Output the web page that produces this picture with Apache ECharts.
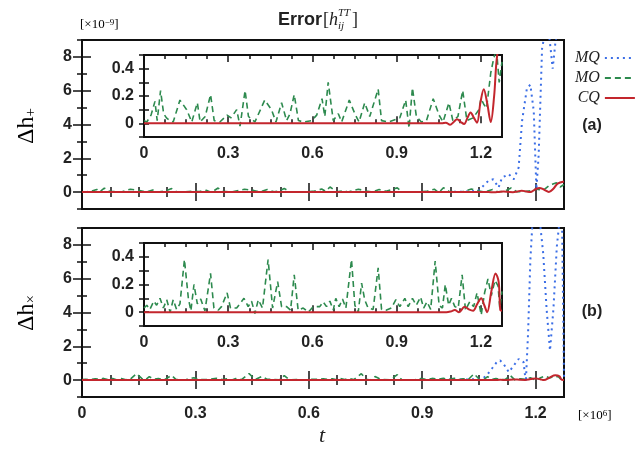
<!DOCTYPE html>
<html><head><meta charset="utf-8">
<script src="https://cdn.jsdelivr.net/npm/echarts@6/dist/echarts.min.js"></script>
<style>html,body{margin:0;padding:0;background:#fff}#c{width:640px;height:450px}</style>
</head><body><div id="c"></div>
<script>
// ---------------- data (values in units of 1e-9; t in units of 1e6) ----------------
const xTickLabels = ['0', '0.3', '0.6', '0.9', '1.2'];
const yMainLabels = [0, 2, 4, 6, 8];
const yMainMinor = [-1, 1, 3, 5, 7, 9];
const yInsetLabels = ['0', '0.2', '0.4'];
const seriesNames = ['MQ', 'MO', 'CQ'];

// panel (a): Delta h_+
const moA_t = [0,0.01,0.025,0.039,0.047,0.059,0.07,0.08,0.092,0.104,0.128,0.152,0.17,0.19,0.2,0.218,0.237,0.25,0.27,0.296,0.31,0.33,0.342,0.36,0.372,0.395,0.43,0.454,0.47,0.49,0.508,0.52,0.535,0.55,0.568,0.597,0.615,0.634,0.644,0.656,0.674,0.692,0.704,0.731,0.751,0.766,0.786,0.804,0.834,0.846,0.87,0.911,0.932,0.944,0.956,0.97,0.988,1.006,1.03,1.051,1.065,1.086,1.1,1.118,1.135,1.15,1.172,1.193,1.2,1.21,1.22,1.235,1.244,1.255,1.265,1.275];
const moA_v = [0.02,0.01,0.06,0.16,0.02,0.24,0.07,0.04,0.02,0.01,0.17,0.10,0.01,0.15,0.01,0.05,0.21,0.02,0.01,0.06,0.04,0.10,-0.02,0.24,0.05,0.01,0.17,0.10,0.01,0.15,0.02,0.07,0.21,0.02,0.01,0.02,0.06,0.18,0.05,0.30,0.02,0.07,0.01,0.17,0.07,0.01,0.15,0.05,0.25,0.02,0.01,0.04,0.17,-0.035,0.26,0.05,0.01,0.02,0.18,0.06,0.01,0.15,0.02,0.05,0.24,0.02,0.04,0.10,0.18,0.14,0.11,0.37,0.46,0.55,0.30,0.45];
const cqA_t = [0,1.06,1.075,1.09,1.103,1.115,1.128,1.14,1.152,1.163,1.175,1.186,1.198,1.21,1.222,1.235,1.247,1.258,1.275];
const cqA_v = [0,0,0.005,-0.01,0.01,0.03,0.01,-0.005,0.04,0.08,0.04,0.005,0.15,0.25,0.15,0.01,0.2,0.5,0.63];
const mqA_t = [0,0.95,1.0,1.03,1.05,1.066,1.075,1.088,1.102,1.111,1.129,1.142,1.155,1.164,1.177,1.186,1.195,1.202,1.208,1.217,1.226,1.235,1.24,1.245,1.252,1.26,1.275];
const mqA_v = [0,0,0.02,0.05,0.1,0.47,0.67,0.76,0.27,0.86,1.06,0.76,1.45,4.2,6.16,6.35,4.8,0.18,2.2,8.5,9.6,9.4,8.4,7.3,8.8,9.8,10];

// panel (b): Delta h_x
const moB_t = [0,0.01,0.021,0.035,0.045,0.057,0.069,0.081,0.093,0.104,0.116,0.128,0.144,0.158,0.167,0.178,0.19,0.202,0.217,0.237,0.249,0.265,0.276,0.296,0.308,0.33,0.356,0.371,0.383,0.395,0.407,0.422,0.442,0.458,0.476,0.49,0.508,0.522,0.535,0.549,0.567,0.585,0.603,0.626,0.638,0.65,0.662,0.674,0.683,0.695,0.707,0.719,0.739,0.751,0.763,0.775,0.786,0.798,0.816,0.834,0.846,0.864,0.881,0.897,0.911,0.929,0.941,0.956,0.97,0.985,0.996,1.008,1.021,1.037,1.051,1.063,1.073,1.085,1.095,1.107,1.119,1.133,1.145,1.16,1.174,1.186,1.201,1.213,1.225,1.237,1.25,1.261,1.267,1.275];
const moB_v = [0.03,0.05,0.02,0.08,0.05,0.10,0.03,0.09,0,0.09,0.02,0.06,0.38,0.10,0.01,0.20,0.06,0.095,0.01,0.28,0.03,0.015,0.04,0.14,0.03,0.03,0.10,0.04,0.08,-0.01,0.09,0.03,0.38,0.03,0.22,0.04,0.04,0.015,0.27,0.015,0.03,0,0.04,0.04,0.075,0.04,0.08,0.015,0.10,0.04,0.095,0.03,0.38,0.05,0,0.21,0.09,0.03,0.02,0.32,0.02,0.015,0.03,0.09,0.04,0.10,0.04,0.10,0.05,0.11,0.03,0.075,0.02,0.37,0.05,0.03,0.20,0.05,0.10,0.04,0.03,0.27,0.015,0.075,0.04,0.14,-0.02,0.14,0.24,0.12,0.23,0.19,0.03,0.15];
const cqB_t = [0,1.077,1.092,1.107,1.122,1.142,1.157,1.172,1.187,1.201,1.212,1.222,1.237,1.252,1.263,1.269,1.275];
const cqB_v = [0,0,0.005,0.015,0,0.04,0.02,0.01,0.06,0.1,0.05,0,0.15,0.28,0.22,0.015,0.01];
const mqB_t = [0,0.95,1.0,1.04,1.06,1.07,1.084,1.097,1.106,1.115,1.129,1.142,1.155,1.168,1.174,1.18,1.186,1.192,1.205,1.212,1.22,1.229,1.238,1.247,1.256,1.264,1.27,1.275];
const mqB_v = [0,0,0.03,0.05,0.1,0.27,0.67,1.06,1.16,0.96,0.47,0.86,1.25,1.06,-0.12,2.8,7.1,9.5,10,9.2,7.5,4.2,1.75,4.2,7.9,9.6,9.2,0.2];

// ---------------- layout / style ----------------
const XMAX = 1.275;
const grids = [
  {left:82, top:40, width:482, height:169, main:true},
  {left:144, top:55, width:358, height:82, main:false},
  {left:82, top:228, width:482, height:169, main:true},
  {left:144, top:243, width:358, height:83, main:false}
];
const COLORS = {MQ:'#3b6ee6', MO:'#2d8a4e', CQ:'#c3262d'};
const DASH = {MQ:[2,4], MO:[6,4], CQ:'solid'};
const WIDTH = {MQ:2, MO:1.6, CQ:2};
const LBL = {fontFamily:'"Liberation Sans", Arial, sans-serif', fontWeight:'bold', fontSize:16, color:'#222'};
const TICKSTYLE = {color:'#111', width:1.5};

const xAxes = [], yAxes = [], xMain = [], yMain = [];
function near(a, b){ return Math.abs(a - b) < 1e-6; }
function pick(list){ return v => { for (const s of list) if (near(v, parseFloat(s))) return String(s); return ''; }; }
const fmtX = pick(xTickLabels), fmtYMain = pick(yMainLabels), fmtYInset = pick(yInsetLabels);

function addX(g, pos, interval, len, labels, z){
  xAxes.push({type:'value', gridIndex:g, position:pos, min:0, max:XMAX, interval:interval, z:z,
    axisLine:{show:false}, splitLine:{show:false},
    axisTick:{show:true, inside:true, length:len, lineStyle:TICKSTYLE},
    axisLabel: labels ? Object.assign({show:true, margin:9, formatter:fmtX, showMaxLabel:false}, LBL) : {show:false}
  });
  return xAxes.length - 1;
}
function addYMain(g, pos, major, labels, z){
  yAxes.push({type:'value', gridIndex:g, position:pos, min:-1, max:9, interval:1, z:z,
    axisLine:{show:false}, splitLine:{show:false},
    axisTick:{show:true, inside:true, length: major ? 9 : 5, lineStyle:TICKSTYLE,
      customValues: major ? yMainLabels : yMainMinor},
    axisLabel: labels ? Object.assign({show:true, margin:10, formatter:fmtYMain, customValues:yMainLabels}, LBL) : {show:false}
  });
  return yAxes.length - 1;
}
function addYInset(g, pos, labels, z){
  yAxes.push({type:'value', gridIndex:g, position:pos, min:-0.1, max:0.5, interval:0.1, z:z,
    axisLine:{show:false}, splitLine:{show:false},
    axisTick:{show:true, inside:true, length:5, lineStyle:TICKSTYLE},
    axisLabel: labels ? Object.assign({show:true, margin:10, formatter:fmtYInset}, LBL) : {show:false}
  });
  return yAxes.length - 1;
}
grids.forEach((g, i) => {
  const z = g.main ? 0 : 6;
  if (g.main) {
    xMain[i] = addX(i, 'bottom', 0.3, 9, i !== 0, z);
    addX(i, 'bottom', 0.075, 5, false, z);
    addX(i, 'top', 0.3, 9, false, z);
    addX(i, 'top', 0.075, 5, false, z);
    yMain[i] = addYMain(i, 'left', true, true, z);
    addYMain(i, 'left', false, false, z);
    addYMain(i, 'right', true, false, z);
    addYMain(i, 'right', false, false, z);
  } else {
    xMain[i] = addX(i, 'bottom', 0.3, 7, true, z);
    addX(i, 'bottom', 0.075, 4, false, z);
    addX(i, 'top', 0.3, 7, false, z);
    addX(i, 'top', 0.075, 4, false, z);
    yMain[i] = addYInset(i, 'left', true, z);
    addYInset(i, 'right', false, z);
  }
});

function pts(t, v){ return t.map((x, k) => [x, v[k]]); }
function ser(name, g, t, v){
  return {name:name, type:'line', xAxisIndex:xMain[g], yAxisIndex:yMain[g], data:pts(t, v),
    symbol:'none', showSymbol:false, smooth: name === 'CQ' ? 0.35 : false, clip:true,
    z: grids[g].main ? (name === 'CQ' ? 4 : 3) : (name === 'CQ' ? 9 : 8),
    lineStyle:{color:COLORS[name], type:DASH[name], width:WIDTH[name]},
    itemStyle:{color:COLORS[name]}, animation:false};
}
const series = [
  ser('MQ', 0, mqA_t, mqA_v), ser('MO', 0, moA_t, moA_v), ser('CQ', 0, cqA_t, cqA_v),
  ser('MO', 1, moA_t, moA_v), ser('CQ', 1, cqA_t, cqA_v),
  ser('MQ', 2, mqB_t, mqB_v), ser('MO', 2, moB_t, moB_v), ser('CQ', 2, cqB_t, cqB_v),
  ser('MO', 3, moB_t, moB_v), ser('CQ', 3, cqB_t, cqB_v)
];

const SERIF = '"Liberation Serif", "DejaVu Serif", serif';
const SANS = '"Liberation Sans", Arial, sans-serif';
const graphic = [
  // title  Error[h_ij^TT]
  {type:'text', x:278, y:20, style:{text:'Error', font:'bold 18px ' + SANS, fill:'#222', verticalAlign:'middle'}},
  {type:'text', x:323, y:20, style:{text:'[', font:'18px ' + SERIF, fill:'#222', verticalAlign:'middle'}},
  {type:'text', x:329, y:20, style:{text:'h', font:'italic 18px ' + SERIF, fill:'#222', verticalAlign:'middle'}},
  {type:'text', x:338, y:13, style:{text:'TT', font:'italic 11px ' + SERIF, fill:'#222', verticalAlign:'middle'}},
  {type:'text', x:338, y:26, style:{text:'ij', font:'italic 11px ' + SERIF, fill:'#222', verticalAlign:'middle'}},
  {type:'text', x:352, y:20, style:{text:']', font:'18px ' + SERIF, fill:'#222', verticalAlign:'middle'}},
  // scale notes
  {type:'text', x:80, y:18, style:{text:'{b|[×10}{s|−9}{b|]}', verticalAlign:'top',
    rich:{b:{fontFamily:SERIF, fontSize:13, color:'#555', verticalAlign:'bottom', lineHeight:13, padding:[5,0,0,0]},
          s:{fontFamily:SERIF, fontSize:9, color:'#555', verticalAlign:'top', lineHeight:9}}}},
  {type:'text', x:578, y:409, style:{text:'{b|[×10}{s|6}{b|]}', verticalAlign:'top',
    rich:{b:{fontFamily:SERIF, fontSize:13, color:'#555', verticalAlign:'bottom', lineHeight:13, padding:[5,0,0,0]},
          s:{fontFamily:SERIF, fontSize:9, color:'#555', verticalAlign:'top', lineHeight:9}}}},
  // y titles
  {type:'text', x:27, y:126, rotation:Math.PI/2, style:{text:'{a|Δh}{s|+}', align:'center', verticalAlign:'middle',
    rich:{a:{fontFamily:SERIF, fontSize:24, color:'#222', verticalAlign:'top', lineHeight:24},
          s:{fontFamily:SERIF, fontSize:15, color:'#222', verticalAlign:'bottom', lineHeight:15, padding:[14,0,0,0]}}}},
  {type:'text', x:27, y:313, rotation:Math.PI/2, style:{text:'{a|Δh}{s|×}', align:'center', verticalAlign:'middle',
    rich:{a:{fontFamily:SERIF, fontSize:24, color:'#222', verticalAlign:'top', lineHeight:24},
          s:{fontFamily:SERIF, fontSize:15, color:'#222', verticalAlign:'bottom', lineHeight:15, padding:[14,0,0,0]}}}},
  // x title
  {type:'text', x:322, y:436, style:{text:'t', font:'italic 22px ' + SERIF, fill:'#222', align:'center', verticalAlign:'middle'}},
  // panel tags
  {type:'text', x:592, y:126, style:{text:'(a)', font:'bold 16px ' + SANS, fill:'#222', align:'center', verticalAlign:'middle'}},
  {type:'text', x:592, y:312, style:{text:'(b)', font:'bold 16px ' + SANS, fill:'#222', align:'center', verticalAlign:'middle'}}
];

const chart = echarts.init(document.getElementById('c'), null, {renderer:'canvas'});
chart.setOption({
  animation:false,
  backgroundColor:'#fff',
  grid: grids.map(g => ({left:g.left, top:g.top, width:g.width, height:g.height, show:true,
    borderColor:'#111', borderWidth:2, backgroundColor: g.main ? 'transparent' : '#fff', z: g.main ? 0 : 5, containLabel:false})),
  xAxis: xAxes,
  yAxis: yAxes,
  legend: {show:true, data:seriesNames, orient:'vertical', left:570, top:45, itemWidth:30, itemHeight:14, itemGap:4,
    align:'right', selectedMode:false, itemStyle:{opacity:0},
    textStyle:{fontFamily:SERIF, fontStyle:'italic', fontSize:16, color:'#222'}},
  series: series,
  graphic: graphic
});
</script></body></html>
